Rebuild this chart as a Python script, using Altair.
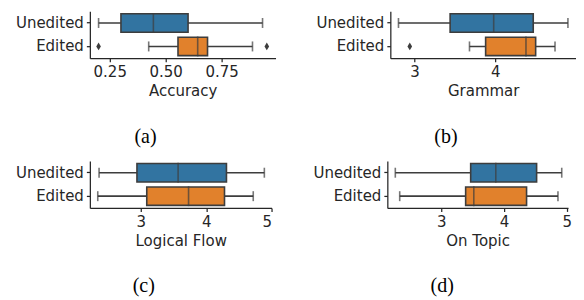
import altair as alt
import pandas as pd

groups = ["Unedited", "Edited"]
group_colors = ["#3274a1", "#e1812c"]
line_gray = "#3d3d3d"

# five-number summaries: whisker low, Q1, median, Q3, whisker high
acc_unedited = [0.20, 0.30, 0.445, 0.60, 0.933]
acc_edited = [0.424, 0.555, 0.643, 0.687, 0.888]
acc_outliers_edited = [0.20, 0.952]

gram_unedited = [2.80, 3.44, 3.98, 4.47, 4.90]
gram_edited = [3.68, 3.88, 4.38, 4.50, 4.74]
gram_outliers_edited = [2.94]

flow_unedited = [2.36, 2.94, 3.57, 4.31, 4.89]
flow_edited = [2.34, 3.09, 3.73, 4.28, 4.72]

topic_unedited = [2.27, 3.47, 3.87, 4.52, 4.92]
topic_edited = [2.34, 3.39, 3.52, 4.36, 4.86]

titles = ["Accuracy", "Grammar", "Logical Flow", "On Topic"]
captions = ["(a)", "(b)", "(c)", "(d)"]
x_domains = [[0.161, 0.991], [2.699, 5.0], [2.219, 5.0], [2.143, 5.02]]
x_ticks = [[0.25, 0.50, 0.75], [3, 4], [3, 4, 5], [3, 4, 5]]
x_formats = [".2f", "d", "d", "d"]
widths = [186, 186, 182, 181]

PANEL_H = 47


def panel(i, unedited, edited, outliers_edited):
    stats = pd.DataFrame(
        [[g] + vals for g, vals in zip(groups, [unedited, edited])],
        columns=["group", "lo", "q1", "med", "q3", "hi"],
    )
    caps = pd.DataFrame(
        [{"group": g, "v": v} for g, vals in zip(groups, [unedited, edited]) for v in (vals[0], vals[4])]
    )
    xs = alt.Scale(domain=x_domains[i], nice=False, zero=False)
    ys = alt.Scale(domain=groups, paddingInner=0, paddingOuter=0)
    yenc = alt.Y("group:N", sort=groups, scale=ys, axis=alt.Axis(title=None))
    xaxis = alt.Axis(values=x_ticks[i], format=x_formats[i], title=titles[i])

    base = alt.Chart(stats)
    whisk = base.mark_rule(color=line_gray, strokeWidth=1.6).encode(
        x=alt.X("lo:Q", scale=xs, axis=xaxis), x2="hi:Q", y=yenc
    )
    cap = alt.Chart(caps).mark_tick(color=line_gray, size=10, thickness=1.6).encode(
        x=alt.X("v:Q", scale=xs), y=yenc
    )
    box = base.mark_bar(size=18.5, stroke=line_gray, strokeWidth=1.6).encode(
        x=alt.X("q1:Q", scale=xs),
        x2="q3:Q",
        y=yenc,
        color=alt.Color("group:N", scale=alt.Scale(domain=groups, range=group_colors), legend=None),
    )
    med = base.mark_tick(color=line_gray, size=20, thickness=1.6).encode(
        x=alt.X("med:Q", scale=xs), y=yenc
    )
    layers = [whisk, cap, box, med]
    if outliers_edited:
        outl = pd.DataFrame({"group": ["Edited"] * len(outliers_edited), "v": outliers_edited})
        pts = alt.Chart(outl).mark_point(
            shape="M0,-1L0.6,0L0,1L-0.6,0Z", filled=True, color=line_gray, size=60, opacity=1
        ).encode(x=alt.X("v:Q", scale=xs), y=yenc)
        layers.append(pts)
    return alt.layer(*layers).properties(
        width=widths[i],
        height=PANEL_H,
        title=alt.TitleParams(
            text=captions[i], orient="bottom", font="Liberation Serif", fontSize=20,
            fontWeight="normal", color="black", offset=28, frame="bounds",
        ),
    )


pa = panel(0, acc_unedited, acc_edited, acc_outliers_edited)
pb = panel(1, gram_unedited, gram_edited, gram_outliers_edited)
pc = panel(2, flow_unedited, flow_edited, [])
pd_ = panel(3, topic_unedited, topic_edited, [])

chart = alt.vconcat(
    alt.hconcat(pa, pb, spacing=40),
    alt.hconcat(pc, pd_, spacing=40),
    spacing=14,
).properties(
    padding={"top": 3, "left": 7, "right": 0, "bottom": 0}
).configure_view(stroke=None).configure_axis(
    grid=False,
    domainColor="#262626",
    tickColor="#262626",
    labelColor="#262626",
    titleColor="#262626",
    domainWidth=1.25,
    tickWidth=1.25,
    tickSize=3.5,
    labelFont="DejaVu Sans",
    titleFont="DejaVu Sans",
    labelFontSize=15,
    titleFontSize=15,
    titleFontWeight="normal",
    labelPadding=3,
    titlePadding=4,
).configure_concat(spacing=40)

chart.save("out.html", embed_options={"renderer": "svg", "actions": False})
